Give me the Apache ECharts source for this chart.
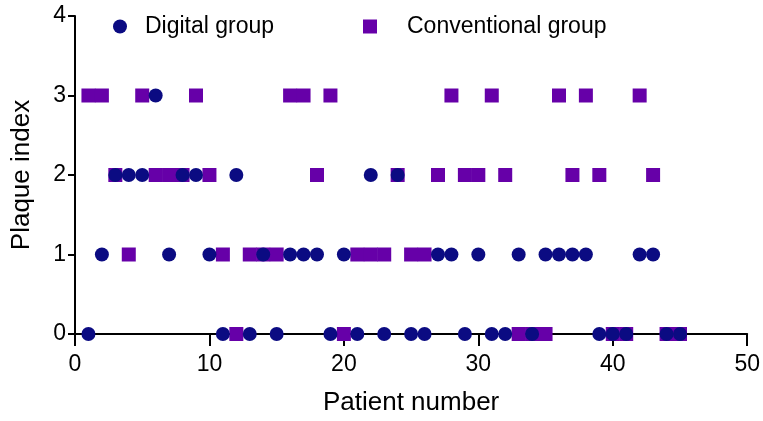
<!DOCTYPE html>
<html>
<head>
<meta charset="utf-8">
<script src="https://cdn.jsdelivr.net/npm/echarts@6/dist/echarts.min.js"></script>
<style>html,body{margin:0;padding:0;background:#fff}#c{width:763px;height:421px}</style>
</head>
<body>
<div id="c"></div>
<script>
// Patient numbers 1..45 and plaque index for each group
const patients = [1,2,3,4,5,6,7,8,9,10,11,12,13,14,15,16,17,18,19,20,21,22,23,24,25,26,27,28,29,30,31,32,33,34,35,36,37,38,39,40,41,42,43,44,45];
const digitalIndex = [0,1,2,2,2,3,1,2,2,1,0,2,0,1,0,1,1,1,0,1,0,2,0,2,0,0,1,1,0,1,0,0,1,0,1,1,1,1,0,0,0,1,1,0,0];
const conventionalIndex = [3,3,2,1,3,2,2,2,3,2,1,0,1,1,1,3,3,2,3,0,1,1,1,2,1,1,2,3,2,2,3,2,0,0,0,3,2,3,2,0,0,3,2,0,0];
const xTicks = [0,10,20,30,40,50];
const yTicks = [0,1,2,3,4];

const digitalData = patients.map((p,i)=>[p, digitalIndex[i]]);
const conventionalData = patients.map((p,i)=>[p, conventionalIndex[i]]);

const chart = echarts.init(document.getElementById('c'));
const font = 'Arial, "Liberation Sans", sans-serif';
chart.setOption({
  animation:false,
  grid:{left:75,right:12,top:16,bottom:83,containLabel:false},
  legend:[
    {left:108, top:10, itemWidth:14, itemHeight:14,
     textStyle:{fontFamily:font,fontSize:23,color:'#000',padding:[0,0,0,13]},
     data:[{name:'Digital group',icon:'circle'}]},
    {left:358, top:10, itemWidth:14, itemHeight:14,
     textStyle:{fontFamily:font,fontSize:23,color:'#000',padding:[0,0,0,25]},
     data:[{name:'Conventional group',icon:'rect'}]}
  ],
  xAxis:{
    type:'value',min:0,max:50,interval:10,
    name:'Patient number',nameLocation:'middle',nameGap:56,
    nameTextStyle:{fontFamily:font,fontSize:26,color:'#000'},
    axisLine:{show:true,lineStyle:{color:'#000',width:2}},
    axisTick:{show:true,length:12,lineStyle:{color:'#000',width:2}},
    axisLabel:{fontFamily:font,fontSize:23,color:'#000',margin:19,
      formatter:v=>xTicks.includes(v)?String(v):''},
    splitLine:{show:false}
  },
  yAxis:{
    type:'value',min:0,max:4,interval:1,
    name:'Plaque index',nameLocation:'middle',nameGap:40,
    nameTextStyle:{fontFamily:font,fontSize:26,color:'#000'},
    axisLine:{show:true,lineStyle:{color:'#000',width:2}},
    axisTick:{show:true,length:7,lineStyle:{color:'#000',width:2}},
    axisLabel:{fontFamily:font,fontSize:23,color:'#000',margin:9,
      formatter:v=>yTicks.includes(v)?String(v):''},
    splitLine:{show:false}
  },
  series:[
    {name:'Digital group',type:'scatter',symbol:'circle',symbolSize:14,z:4,
     itemStyle:{color:'#0b0b82',opacity:1},data:digitalData},
    {name:'Conventional group',type:'scatter',symbol:'rect',symbolSize:14,z:3,
     itemStyle:{color:'#6600a8',opacity:1},data:conventionalData}
  ]
});
</script>
</body>
</html>
